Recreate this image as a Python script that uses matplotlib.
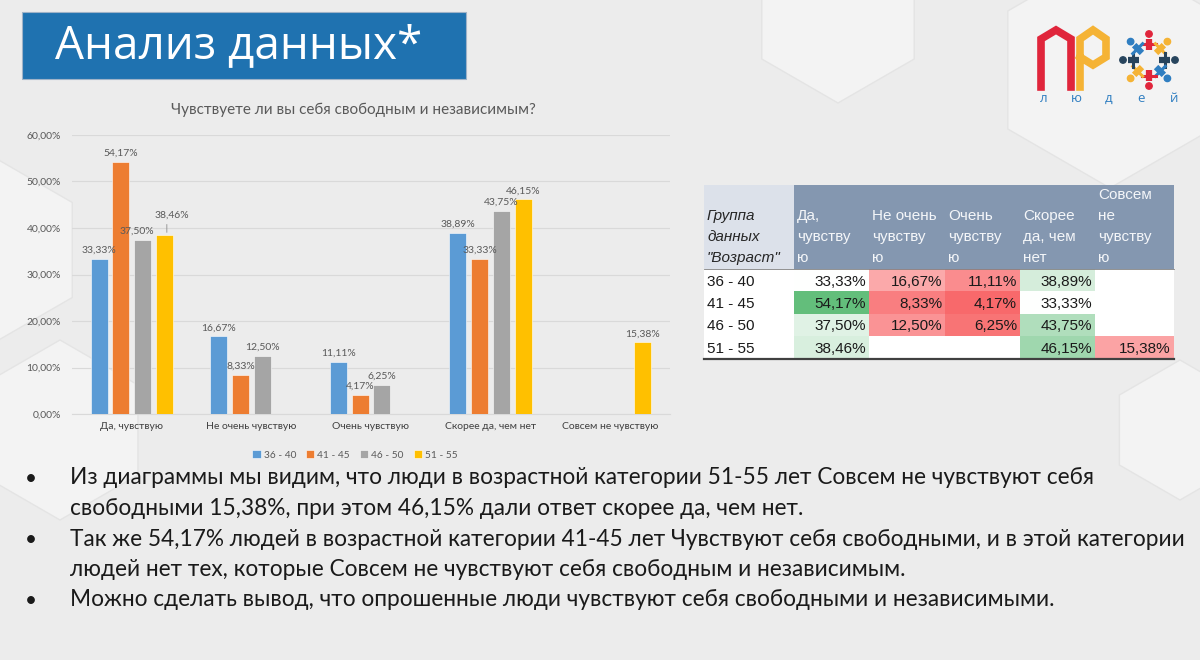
import numpy as np
import matplotlib
matplotlib.use("Agg")
import matplotlib.pyplot as plt
from matplotlib.patches import Rectangle, RegularPolygon, Circle
from matplotlib.colors import LinearSegmentedColormap, TwoSlopeNorm

# ---------------- data ----------------
categories = ['Да, чувствую', 'Не очень чувствую', 'Очень чувствую',
              'Скорее да, чем нет', 'Совсем не чувствую']
groups = ['36 - 40', '41 - 45', '46 - 50', '51 - 55']
v_36_40 = [33.33, 16.67, 11.11, 38.89, np.nan]
v_41_45 = [54.17, 8.33, 4.17, 33.33, np.nan]
v_46_50 = [37.50, 12.50, 6.25, 43.75, np.nan]
v_51_55 = [38.46, np.nan, np.nan, 46.15, 15.38]
series = [v_36_40, v_41_45, v_46_50, v_51_55]
colors = ['#5b9bd5', '#ed7d31', '#a5a5a5', '#ffc000']
yticks = [0, 10, 20, 30, 40, 50, 60]

table_headers = ['Да,\nчувству\nю', 'Не очень\nчувству\nю', 'Очень\nчувству\nю',
                 'Скорее\nда, чем\nнет', 'Совсем\nне\nчувству\nю']
table_corner = 'Группа\nданных\n"Возраст"'

chart_title = 'Чувствуете ли вы себя свободным и независимым?'
slide_title = 'Анализ данных*'
bullets = [
    ['Из диаграммы мы видим, что люди в возрастной категории 51-55 лет Совсем не чувствуют себя',
     'свободными 15,38%, при этом 46,15% дали ответ скорее да, чем нет.'],
    ['Так же 54,17% людей в возрастной категории 41-45 лет Чувствуют себя свободными, и в этой категории',
     'людей нет тех, которые Совсем не чувствуют себя свободным и независимым.'],
    ['Можно сделать вывод, что опрошенные люди чувствуют себя свободными и независимыми.'],
]

def fmt(v):
    return f"{v:.2f}%".replace('.', ',')

W, H = 1200, 660
fig = plt.figure(figsize=(12, 6.6), dpi=100)
fig.patch.set_facecolor('#ececec')

CH = ['Lato', 'Open Sans', 'DejaVu Sans']

# ---------------- background / overlay axes (pixel coords) ----------------
bg = fig.add_axes([0, 0, 1, 1])
bg.set_xlim(0, W)
bg.set_ylim(H, 0)
bg.axis('off')
bg.set_zorder(0)

for (cx, cy, r) in [(1110, 70, 118), (838, 15, 88), (-10, 250, 95), (60, 430, 90), (1180, 430, 70)]:
    bg.add_patch(RegularPolygon((cx, cy), 6, radius=r, orientation=0,
                                facecolor='#f3f3f3', edgecolor='#e4e4e4', lw=1.0, zorder=0))

# title box
bg.add_patch(Rectangle((22, 12), 444, 67, facecolor='#1f72b0', edgecolor='#9fb3c8', lw=0.8, zorder=2))
bg.text(55, 46, slide_title, fontsize=33, color='white', family=['Open Sans', 'DejaVu Sans'],
        va='center', ha='left', zorder=3)

# logo
red, orange, navy, blue = '#e0253b', '#f5b335', '#27445d', '#2f7ec1'
bg.plot([1041, 1041, 1056, 1071, 1071], [87, 39, 30, 39, 87], color=red, lw=5.5,
        solid_joinstyle='miter', zorder=3)
bg.plot([1080, 1080, 1093, 1106, 1106, 1093, 1080], [87, 39, 30, 39, 57, 65, 57], color=orange, lw=5.5,
        solid_joinstyle='miter', zorder=3)
cxl, cyl = 1149, 60
fig_cols = [red, orange, navy, blue, red, orange, navy, blue]
for k, ang in enumerate(np.deg2rad([90, 45, 0, -45, -90, -135, 180, 135])):
    ux, uy = np.cos(ang), -np.sin(ang)
    col = fig_cols[k]
    bg.plot([cxl + 10 * ux, cxl + 21 * ux], [cyl + 10 * uy, cyl + 21 * uy], color=col, lw=4.5,
            solid_capstyle='butt', zorder=3)
    tx, ty = -uy, ux
    bg.plot([cxl + 16 * ux - 7 * tx, cxl + 16 * ux + 7 * tx], [cyl + 16 * uy - 7 * ty, cyl + 16 * uy + 7 * ty],
            color=col, lw=2.2, zorder=3)
    bg.add_patch(Circle((cxl + 26 * ux, cyl + 26 * uy), 3.2, color=col, zorder=3))
for k, ch in enumerate('людей'):
    bg.text(1044 + k * 32.5, 98, ch, fontsize=9.5, color=blue, ha='center', va='center',
            family=['Open Sans', 'DejaVu Sans'], zorder=3)

# ---------------- chart ----------------
ax = fig.add_axes([72 / W, (H - 414) / H, 598 / W, 279 / H])
ax.set_zorder(1)
ax.patch.set_alpha(0)
x = np.arange(len(categories)) + 0.5
bw, step = 0.142, 0.182
# label nudges (points) where Excel moved overlapping labels
nudges = {(0, 2): (-4, 3), (0, 3): (5, 11)}
for i, (vals, col, g) in enumerate(zip(series, colors, groups)):
    xs = x + (i - 1.5) * step
    arr = np.array(vals, dtype=float)
    ax.bar(xs, arr, width=bw, color=col, edgecolor='white', linewidth=0.4, label=g, zorder=3)
    for c, (xi, v) in enumerate(zip(xs, arr)):
        if np.isnan(v):
            continue
        dx, dy = nudges.get((c, i), (0, 3))
        ax.annotate(fmt(v), (xi, v), xytext=(dx, dy), textcoords='offset points',
                    ha='center', va='bottom', fontsize=7.5, color='#595959', family=CH, zorder=4)
        if (c, i) == (0, 3):
            ax.annotate('', (xi + 0.02, v), xytext=(xi + 0.02, v + 2.9),
                        arrowprops=dict(arrowstyle='-', color='#8c8c8c', lw=0.6), zorder=4)
ax.set_xlim(0, len(categories))
ax.set_ylim(0, 60)
ax.set_yticks(yticks)
ax.set_yticklabels([f"{t:.2f}%".replace('.', ',') for t in yticks], fontsize=7.5, color='#595959', family=CH)
ax.set_xticks(x)
ax.set_xticklabels(categories, fontsize=7.5, color='#404040', family=CH)
ax.tick_params(length=0, pad=8)
ax.tick_params(axis='x', pad=6)
ax.grid(axis='y', color='#d9d9d9', lw=0.8, zorder=0)
for s in ['top', 'right', 'left']:
    ax.spines[s].set_visible(False)
ax.spines['bottom'].set_color('#d9d9d9')
ax.set_axisbelow(True)

fig.text(353 / W, 1 - 110 / H, chart_title, fontsize=11, color='#595959', ha='center', va='center', family=CH)
fig.legend(loc='center', bbox_to_anchor=(355 / W, 1 - 455 / H), ncol=4, frameon=False,
           prop={'family': CH, 'size': 7.3}, handlelength=0.8, handleheight=0.8, handletextpad=0.3,
           columnspacing=1.0, labelcolor='#595959')

# ---------------- table ----------------
col_edges = [704, 794, 869, 945, 1020, 1095, 1174]
head_top, head_bot = 185, 269
row_h = 22.3
TF = ['Liberation Sans', 'DejaVu Sans']
bg.add_patch(Rectangle((col_edges[0], head_top), col_edges[1] - col_edges[0], head_bot - head_top,
                       facecolor='#dce1ea', edgecolor='none', zorder=2))
bg.add_patch(Rectangle((col_edges[1], head_top), col_edges[-1] - col_edges[1], head_bot - head_top,
                       facecolor='#8497b0', edgecolor='none', zorder=2))
line_gap = 21.0
last_line_y = 258
for j, lines in enumerate(table_corner.split('\n')[::-1]):
    bg.text(col_edges[0] + 3, last_line_y - j * line_gap, lines, fontsize=11, style='italic',
            color='#262626', family=TF, va='center', ha='left', zorder=3)
for c, hdr in enumerate(table_headers):
    for j, lines in enumerate(hdr.split('\n')[::-1]):
        bg.text(col_edges[c + 1] + 3, last_line_y - j * line_gap, lines, fontsize=11,
                color='#f4f6f9', family=TF, va='center', ha='left', zorder=3)

allv = np.array([v for s in series for v in s if not np.isnan(v)])
cmap = LinearSegmentedColormap.from_list('cf', ['#f8696b', '#ffffff', '#63be7b'])
norm = TwoSlopeNorm(vmin=allv.min(), vcenter=np.median(allv), vmax=allv.max())
bg.add_patch(Rectangle((col_edges[0], head_bot), col_edges[-1] - col_edges[0], 4 * row_h,
                       facecolor='white', edgecolor='none', zorder=1.5))
for r, (g, vals) in enumerate(zip(groups, series)):
    top = head_bot + r * row_h
    yc = top + row_h / 2 + 1.5
    bg.text(col_edges[0] + 3, yc, g, fontsize=11, color='#1a1a1a', family=TF, va='center', ha='left', zorder=3)
    for c, v in enumerate(vals):
        if np.isnan(v):
            continue
        bg.add_patch(Rectangle((col_edges[c + 1], top), col_edges[c + 2] - col_edges[c + 1], row_h,
                               facecolor=cmap(norm(v)), edgecolor='none', zorder=2))
        bg.text(col_edges[c + 2] - 3, yc, fmt(v), fontsize=11, color='#1a1a1a', family=TF,
                va='center', ha='right', zorder=3)
bg.plot([col_edges[0], col_edges[-1]], [head_bot, head_bot], color='#7f7f7f', lw=0.6, zorder=3)
bg.plot([col_edges[0], col_edges[-1]], [head_bot + 4 * row_h + 1, head_bot + 4 * row_h + 1],
        color='#404040', lw=1.6, zorder=3)

# ---------------- bullets ----------------
BF = ['Lato', 'Open Sans', 'DejaVu Sans']
y = 478
for b in bullets:
    bg.text(31, y + 1, '•', fontsize=15, color='#1a1a1a', ha='center', va='center', family=BF, zorder=3)
    for ln in b:
        bg.text(70, y, ln, fontsize=16.3, color='#1a1a1a', ha='left', va='center', family=BF, zorder=3)
        y += 30.5

fig.savefig('out.png', dpi=100, facecolor=fig.get_facecolor())
